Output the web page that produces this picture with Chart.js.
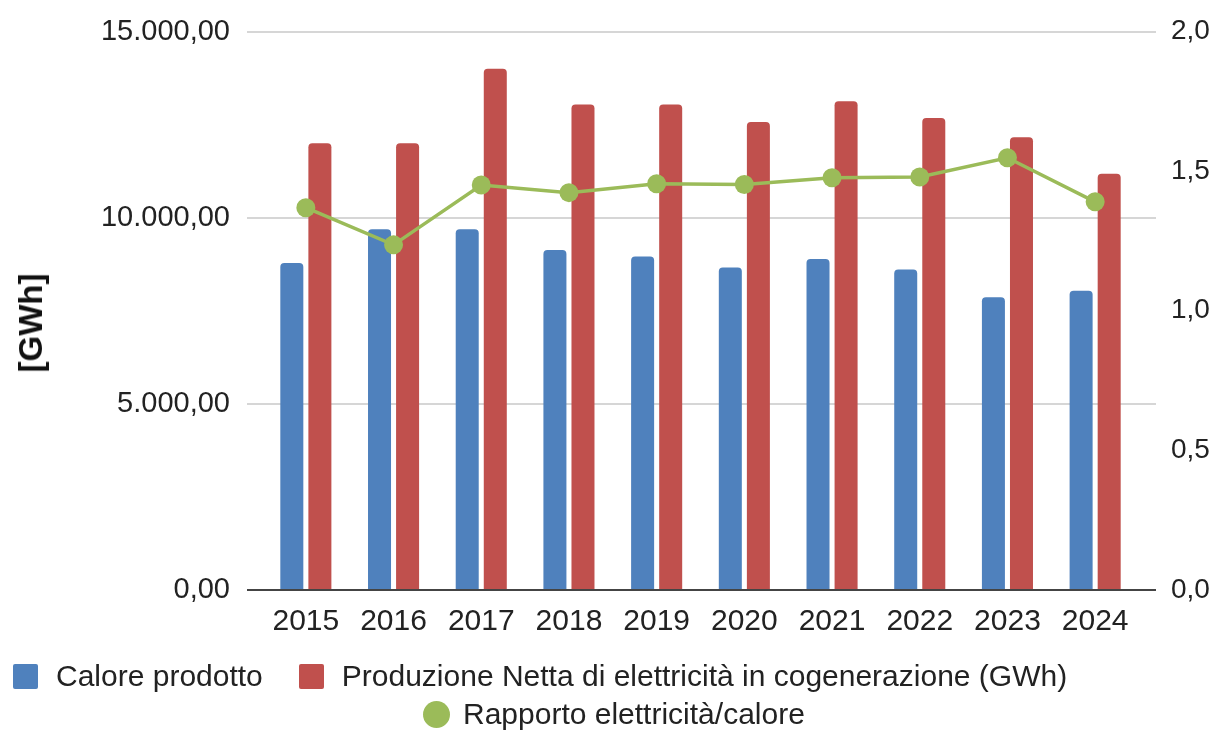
<!DOCTYPE html>
<html>
<head>
<meta charset="utf-8">
<script src="https://cdn.jsdelivr.net/npm/chart.js@4/dist/chart.umd.min.js"></script>
<style>
  html, body { margin: 0; padding: 0; background: #fff; }
  #wrap { position: relative; width: 1217px; height: 731px; font-family: "Liberation Sans", Arial, sans-serif; color: #222; }
  #c { position: absolute; left: 0; top: 0; }
  .ytitle { position: absolute; left: 31px; top: 323px; transform: translate(-50%, -50%) rotate(-90deg); font-weight: bold; font-size: 33px; white-space: nowrap; color: #111; }
  .lrow { position: absolute; display: flex; align-items: center; font-size: 30px; white-space: nowrap; color: #222; }
  .item { display: flex; align-items: center; }
  .sw { display: inline-block; width: 25px; height: 25px; border-radius: 2px; margin-right: 18px; }
  .dot { display: inline-block; width: 27px; height: 27px; border-radius: 50%; margin-right: 13px; }
</style>
</head>
<body>
<div id="wrap">
  <canvas id="c" width="1217" height="731"></canvas>
  <div class="ytitle">[GWh]</div>
  <div class="lrow" id="row1" style="left:13px; top:676px; transform: translateY(-50%);"></div>
  <div class="lrow" id="row2" style="left:423px; top:714px; transform: translateY(-50%);"></div>
</div>
<script>
const categories = ["2015","2016","2017","2018","2019","2020","2021","2022","2023","2024"];
const caloreProdotto = [8780, 9690, 9690, 9130, 8960, 8660, 8890, 8610, 7860, 8040];
const produzioneNetta = [12000, 12000, 14000, 13040, 13040, 12570, 13130, 12680, 12160, 11180];
const rapporto = [1.369, 1.236, 1.450, 1.423, 1.455, 1.452, 1.476, 1.479, 1.548, 1.390];
const leftTicks = [0, 5000, 10000, 15000];
const rightTicks = [0, 0.5, 1.0, 1.5, 2.0];

const seriesNames = ["Calore prodotto", "Produzione Netta di elettricità in cogenerazione (GWh)", "Rapporto elettricità/calore"];
const colors = { blue: "#4F81BD", red: "#C0504D", green: "#9BBB59" };

function fmtLeft(v) {
  const int = Math.round(v).toString().replace(/\B(?=(\d{3})+(?!\d))/g, ".");
  return int + ",00";
}
function fmtRight(v) { return Number(v).toFixed(1).replace(".", ","); }

const gridColor = (ctx) => (ctx.tick && ctx.tick.value === 0) ? "#444" : "#D6D6D6";
const leftTickBuilder = (s) => { s.ticks = leftTicks.map(v => ({ value: v })); };

new Chart(document.getElementById("c"), {
  data: {
    labels: categories,
    datasets: [
      { type: "line", label: seriesNames[2], data: rapporto, yAxisID: "y1", order: 0,
        borderColor: colors.green, backgroundColor: colors.green, borderWidth: 3.5,
        pointRadius: 9.5, pointHoverRadius: 9.5, pointBackgroundColor: colors.green, pointBorderWidth: 0, tension: 0 },
      { type: "bar", label: seriesNames[0], data: caloreProdotto, yAxisID: "y", order: 1,
        backgroundColor: colors.blue, borderRadius: { topLeft: 4, topRight: 4, bottomLeft: 0, bottomRight: 0 }, borderSkipped: false,
        categoryPercentage: 0.64, barPercentage: 0.82 },
      { type: "bar", label: seriesNames[1], data: produzioneNetta, yAxisID: "y", order: 1,
        backgroundColor: colors.red, borderRadius: { topLeft: 4, topRight: 4, bottomLeft: 0, bottomRight: 0 }, borderSkipped: false,
        categoryPercentage: 0.64, barPercentage: 0.82 }
    ]
  },
  options: {
    responsive: false,
    animation: false,
    events: [],
    layout: { padding: { top: 30, bottom: 91, left: 0, right: 0 } },
    plugins: { legend: { display: false }, tooltip: { enabled: false } },
    scales: {
      x: {
        grid: { display: false },
        border: { display: false },
        ticks: { font: { family: "Liberation Sans", size: 30 }, color: "#222", padding: 6, maxRotation: 0 },
        afterFit: (s) => { s.height = 50; }
      },
      y: {
        position: "left",
        min: 0, max: 15000,
        afterBuildTicks: leftTickBuilder,
        grid: { color: gridColor, lineWidth: 2, drawTicks: true, tickLength: 15 },
        border: { display: false },
        ticks: { font: { family: "Liberation Sans", size: 29, lineHeight: 1 }, color: "#222", padding: 17, callback: (v) => fmtLeft(v) },
        afterFit: (s) => { s.width = 262; }
      },
      yExt: {
        position: "right",
        min: 0, max: 15000,
        afterBuildTicks: leftTickBuilder,
        grid: { color: gridColor, lineWidth: 2, drawOnChartArea: false, drawTicks: true, tickLength: 17 },
        border: { display: false },
        ticks: { display: false },
        afterFit: (s) => { s.width = 17; }
      },
      y1: {
        position: "right",
        min: 0, max: 2,
        afterBuildTicks: (s) => { s.ticks = rightTicks.map(v => ({ value: v })); },
        grid: { display: false },
        border: { display: false },
        ticks: { font: { family: "Liberation Sans", size: 28, lineHeight: 1 }, color: "#222", padding: 7, callback: (v) => fmtRight(v) },
        afterFit: (s) => { s.width = 61; }
      }
    }
  }
});

// HTML legend built from series names/colors
const row1 = document.getElementById("row1");
const row2 = document.getElementById("row2");
function addItem(row, name, color, isDot, gap) {
  const it = document.createElement("span");
  it.className = "item";
  if (gap) it.style.marginLeft = gap + "px";
  const sw = document.createElement("span");
  sw.className = isDot ? "dot" : "sw";
  sw.style.background = color;
  const t = document.createElement("span");
  t.textContent = name;
  it.appendChild(sw); it.appendChild(t);
  row.appendChild(it);
}
addItem(row1, seriesNames[0], colors.blue, false, 0);
addItem(row1, seriesNames[1], colors.red, false, 36);
addItem(row2, seriesNames[2], colors.green, true, 0);
</script>
</body>
</html>
